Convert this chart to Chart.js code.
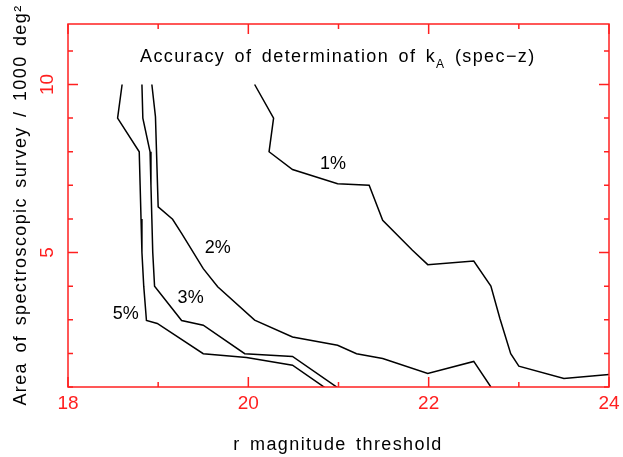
<!DOCTYPE html>
<html>
<head>
<meta charset="utf-8">
<script src="https://cdn.jsdelivr.net/npm/chart.js@4.4.1/dist/chart.umd.min.js"></script>
<style>
  body { margin: 0; background: #fff; }
</style>
</head>
<body>
<canvas id="kaChart" width="623" height="457"></canvas>
<script>
// contour curves: r magnitude threshold vs survey area (1000 deg^2)
const r1 = [20.07, 20.28, 20.23, 20.49, 20.99, 21.34, 21.49, 21.82, 21.99, 22.50, 22.69, 22.79, 22.91, 23.00, 23.50, 24.00];
const a1 = [10.0, 9.0, 8.0, 7.47, 7.05, 7.0, 5.96, 5.07, 4.64, 4.75, 4.0, 3.04, 1.99, 1.62, 1.25, 1.37];

const r2 = [18.93, 18.97, 19.00, 19.16, 19.26, 19.50, 19.66, 20.07, 20.49, 20.99, 21.20, 21.49, 21.99, 22.50, 22.69];
const a2 = [10.0, 9.04, 6.36, 5.99, 5.57, 4.52, 3.98, 2.99, 2.49, 2.24, 1.99, 1.85, 1.40, 1.76, 1.0];

const r3 = [18.82, 18.83, 18.91, 18.92, 18.93, 18.94, 18.96, 19.26, 19.50, 19.96, 20.49, 20.99];
const a3 = [10.0, 9.0, 8.0, 7.0, 6.0, 5.0, 4.0, 2.98, 2.84, 1.99, 1.91, 0.98];

const r5 = [18.60, 18.55, 18.79, 18.80, 18.81, 18.82, 18.84, 18.87, 18.99, 19.50, 19.98, 20.49, 20.85];
const a5 = [10.0, 9.0, 8.0, 7.0, 6.0, 5.0, 4.0, 2.98, 2.89, 1.99, 1.88, 1.65, 0.98];

// curve labels, placed in data coordinates
const curveNames = ['1%', '2%', '3%', '5%'];
const nameR = [20.94, 19.66, 19.36, 18.64];
const nameA = [7.64, 5.12, 3.66, 3.16];

// axis ranges and tick labels
const xMin = 18, xMax = 24;
const yMin = 1, yMax = 11.8;
const xLabels = [18, 20, 22, 24];
const yLabels = [5, 10];

const RED = '#ff2020';
const FONT = '"Liberation Sans", Arial, sans-serif';

function pts(xs, ys) {
        return xs.map((x, i) => ({ x: x, y: ys[i] }));
}

function curve(xs, ys) {
        return {
                data: pts(xs, ys),
                borderColor: '#000',
                borderWidth: 1.5,
                pointRadius: 0,
                tension: 0,
                fill: false,
        };
}

// text with the wide spacing of the original plot
function spaced(c, on) {
        c.letterSpacing = on ? '1.4px' : '0px';
        c.wordSpacing = on ? '3px' : '0px';
}

// frame, inward ticks and all text drawn on top of the chart
const frame = {
        id: 'frame',
        afterDraw(chart) {
                const c = chart.ctx;
                const xs = chart.scales.x, ys = chart.scales.y;
                const L = xs.left, R = xs.right, T = ys.top, B = ys.bottom;
                c.save();
                c.strokeStyle = RED;
                c.lineWidth = 1.5;
                c.strokeRect(L, T, R - L, B - T);

                c.beginPath();
                for (let v = xMin; v <= xMax; v++) {
                        const px = xs.getPixelForValue(v);
                        const len = xLabels.includes(v) ? 10 : 5;
                        c.moveTo(px, B); c.lineTo(px, B - len);
                        c.moveTo(px, T); c.lineTo(px, T + len);
                }
                for (let v = Math.ceil(yMin); v <= yMax; v++) {
                        const py = ys.getPixelForValue(v);
                        const len = yLabels.includes(v) ? 10 : 5;
                        c.moveTo(L, py); c.lineTo(L + len, py);
                        c.moveTo(R, py); c.lineTo(R - len, py);
                }
                c.stroke();

                // tick labels
                c.fillStyle = RED;
                c.font = '19px ' + FONT;
                c.textAlign = 'center';
                c.textBaseline = 'middle';
                spaced(c, false);
                xLabels.forEach(v => c.fillText(String(v), xs.getPixelForValue(v), B + 17));
                yLabels.forEach(v => {
                        c.save();
                        c.translate(L - 20, ys.getPixelForValue(v));
                        c.rotate(-Math.PI / 2);
                        c.fillText(String(v), 0, 0);
                        c.restore();
                });

                // axis titles
                c.fillStyle = '#000';
                c.font = '18px ' + FONT;
                c.textBaseline = 'alphabetic';
                spaced(c, true);
                c.fillText('r magnitude threshold', 338, 450);
                c.save();
                c.translate(26, 205);
                c.rotate(-Math.PI / 2);
                c.fillText('Area of spectroscopic survey / 1000 deg\u00B2', 0, 0);
                c.restore();

                // title with subscript
                c.textAlign = 'left';
                let x = 140;
                const base = 62;
                const t1 = 'Accuracy of determination of k', t2 = 'A', t3 = ' (spec\u2212z)';
                c.font = '18px ' + FONT;
                c.fillText(t1, x, base);
                x += c.measureText(t1).width;
                c.font = '12px ' + FONT;
                c.fillText(t2, x, base + 6);
                x += c.measureText(t2).width;
                c.font = '18px ' + FONT;
                c.fillText(t3, x, base);

                // curve labels
                c.textAlign = 'center';
                c.textBaseline = 'middle';
                spaced(c, false);
                curveNames.forEach((n, i) => {
                        c.fillText(n, xs.getPixelForValue(nameR[i]), ys.getPixelForValue(nameA[i]));
                });
                c.restore();
        }
};

const ctx = document.getElementById('kaChart').getContext('2d');

const kaChart = new Chart(ctx, {
        type: 'line',
        data: {
                datasets: [curve(r1, a1), curve(r2, a2), curve(r3, a3), curve(r5, a5)],
        },
        options: {
                responsive: false,
                animation: false,
                layout: {
                        padding: { left: 68, top: 24, right: 14, bottom: 70 },
                },
                plugins: {
                        legend: { display: false },
                        tooltip: { enabled: false },
                },
                scales: {
                        x: { type: 'linear', min: xMin, max: xMax, display: false },
                        y: { type: 'linear', min: yMin, max: yMax, display: false },
                },
        },
        plugins: [frame],
});
</script>
</body>
</html>
